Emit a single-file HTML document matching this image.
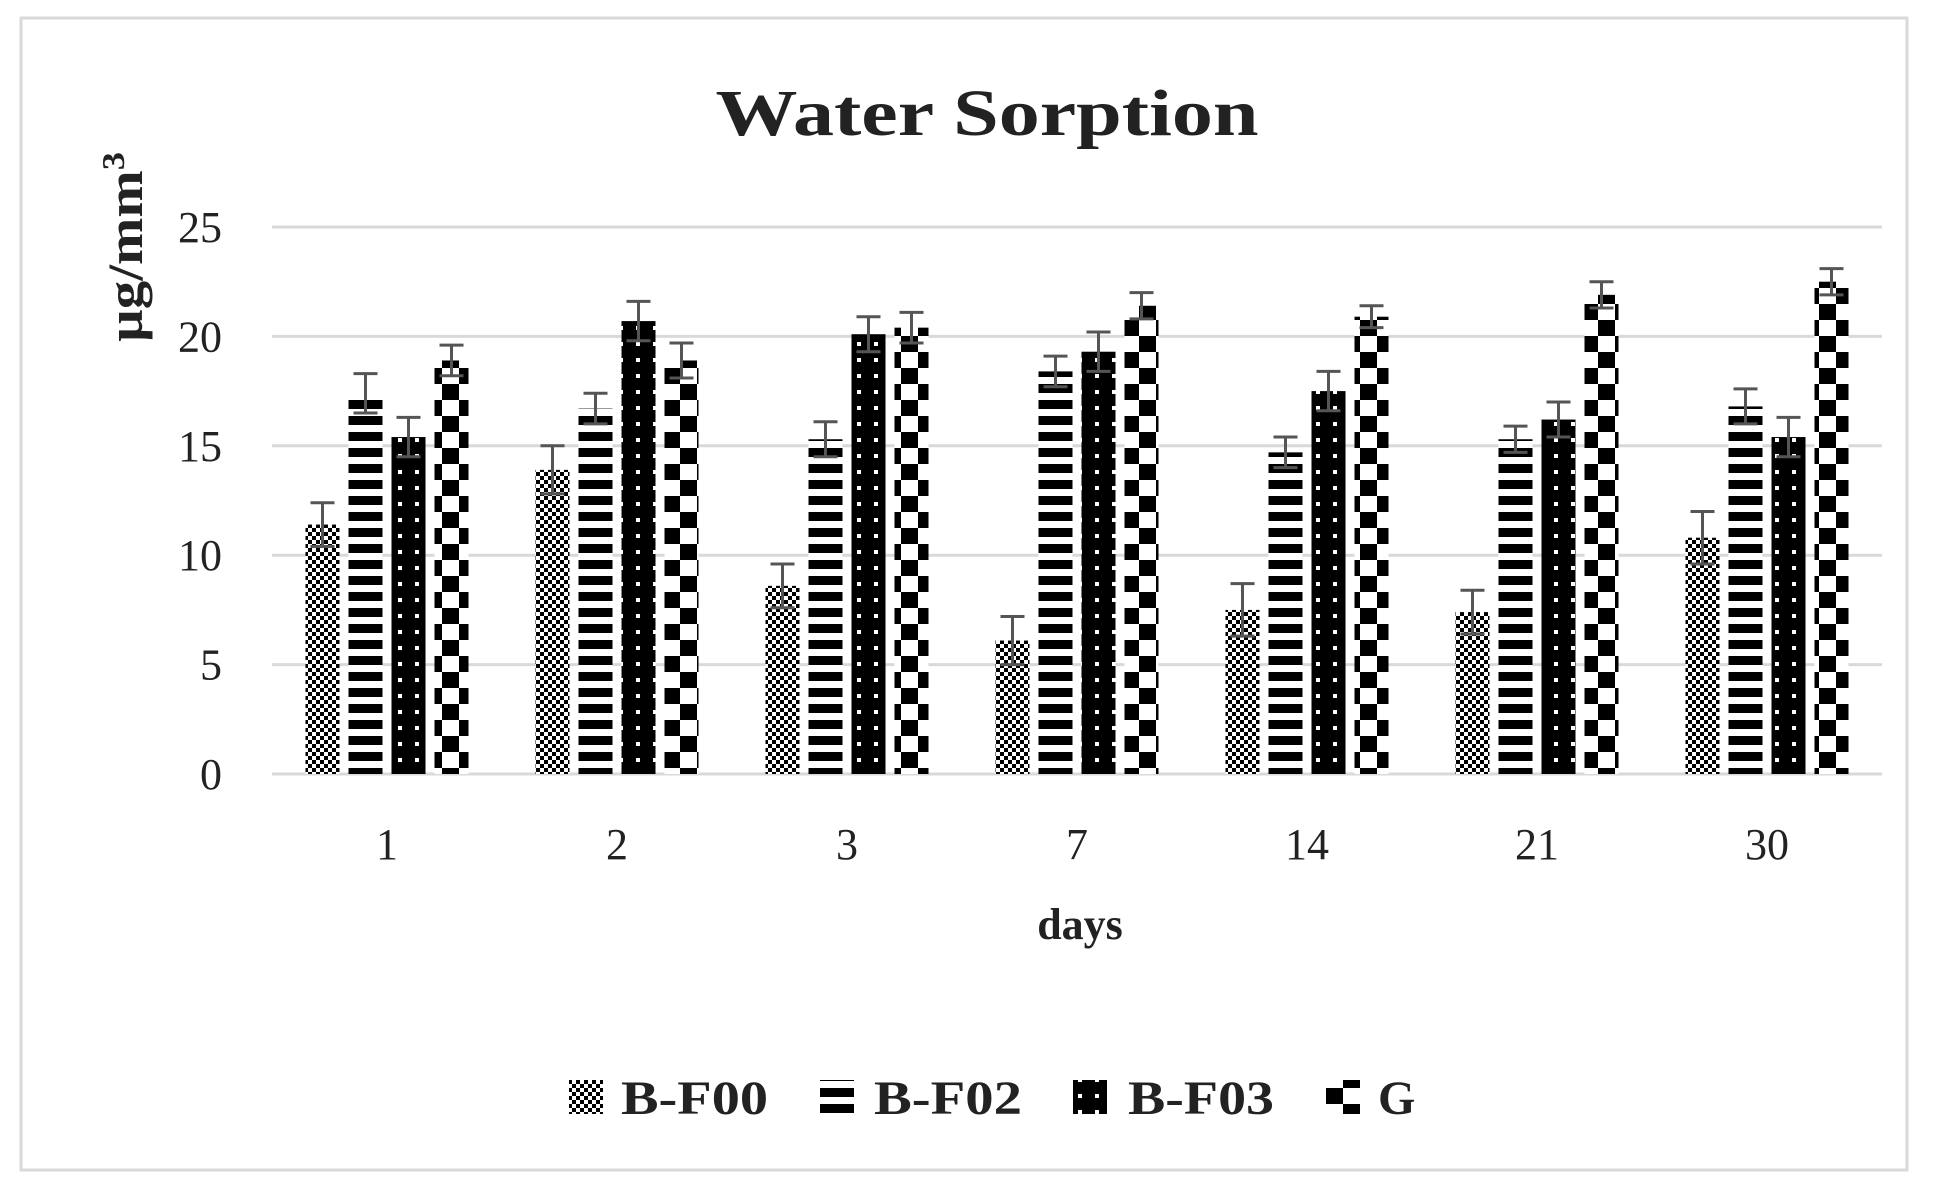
<!DOCTYPE html>
<html><head><meta charset="utf-8"><style>
html,body{margin:0;padding:0;background:#fff}
svg{display:block}
text{font-family:"Liberation Serif",serif;fill:#222}
</style></head><body>
<svg id="chart" width="1958" height="1188" viewBox="0 0 1958 1188" xmlns="http://www.w3.org/2000/svg">
<defs>
<pattern id="p0" width="8" height="8" patternUnits="userSpaceOnUse">
<rect width="8" height="8" fill="#fff"/><rect x="0" y="0" width="4" height="4" fill="#000"/><rect x="4" y="4" width="4" height="4" fill="#000"/>
</pattern>
<pattern id="p1" width="34" height="16" patternUnits="userSpaceOnUse">
<rect width="34" height="16" fill="#fff"/><rect y="0" width="34" height="9" fill="#000"/>
</pattern>
<pattern id="p2" width="17" height="16" patternUnits="userSpaceOnUse">
<rect width="17" height="16" fill="#000"/><rect x="7" y="6" width="4" height="4" fill="#fff"/>
</pattern>
<pattern id="p3" width="34" height="32" patternUnits="userSpaceOnUse">
<rect width="34" height="32" fill="#fff"/><rect x="0" y="0" width="17" height="16" fill="#000"/><rect x="17" y="16" width="17" height="16" fill="#000"/>
</pattern>
</defs>
<rect x="21" y="18" width="1886" height="1152" fill="#fff" stroke="#d9d9d9" stroke-width="3"/>
<text x="987" y="135" text-anchor="middle" font-size="66" font-weight="bold" textLength="543" lengthAdjust="spacingAndGlyphs">Water Sorption</text>
<text transform="translate(142,247) rotate(-90)" text-anchor="middle" font-size="50" font-weight="bold" textLength="190" lengthAdjust="spacingAndGlyphs">µg/mm<tspan font-size="32" dy="-18">3</tspan></text>
<text x="1080" y="939" text-anchor="middle" font-size="44" font-weight="bold">days</text>
<g id="grid"></g><g id="bars"></g><g id="xlabels"></g>
<g>
<rect x="569" y="1080" width="34" height="34" fill="url(#p0)"/>
<text x="621" y="1114" font-size="48" font-weight="bold" textLength="147" lengthAdjust="spacingAndGlyphs">B-F00</text>
<rect x="820" y="1080" width="34" height="34" fill="url(#p1)"/>
<text x="874" y="1114" font-size="48" font-weight="bold" textLength="148" lengthAdjust="spacingAndGlyphs">B-F02</text>
<rect x="1073" y="1080" width="34" height="34" fill="url(#p2)"/>
<text x="1128" y="1114" font-size="48" font-weight="bold" textLength="146" lengthAdjust="spacingAndGlyphs">B-F03</text>
<rect x="1326" y="1080" width="34" height="34" fill="url(#p3)"/>
<text x="1378" y="1114" font-size="48" font-weight="bold">G</text>
</g>
</svg>
<script>
const categories = ["1","2","3","7","14","21","30"];
const yTicks = [0,5,10,15,20,25];
const bF00 = [11.4,13.9,8.6,6.1,7.5,7.4,10.8];
const bF02 = [17.4,16.7,15.3,18.4,14.7,15.3,16.8];
const bF03 = [15.4,20.7,20.1,19.3,17.5,16.2,15.4];
const gVals = [18.9,18.9,20.4,21.4,20.9,21.9,22.5];
const errF00 = [1.0,1.1,1.0,1.1,1.2,1.0,1.2];
const errF02 = [0.9,0.7,0.8,0.7,0.7,0.6,0.8];
const errF03 = [0.9,0.9,0.8,0.9,0.9,0.8,0.9];
const errG = [0.7,0.8,0.7,0.6,0.5,0.6,0.6];

const NS="http://www.w3.org/2000/svg";
const X0=272,X1=1882,Y0=774,Y25=227;
const y=v=>Y0-(v/25)*(Y0-Y25);
const band=(X1-X0)/categories.length;
const cx=i=>X0+band*(i+0.5);
function mk(tag,attrs,parent){const e=document.createElementNS(NS,tag);for(const k in attrs)e.setAttribute(k,attrs[k]);parent.appendChild(e);return e;}
const grid=document.getElementById('grid');
yTicks.forEach(t=>{
  const l=mk('line',{x1:X0,x2:X1,y1:y(t),y2:y(t),stroke:'#d9d9d9','stroke-width':3},grid);
  
  
  const tx=mk('text',{x:222,y:y(t)+15,'text-anchor':'end','font-size':44},grid);
  
  
  tx.textContent=t;
});
const series=[[bF00,errF00,'p0','b-f00'],[bF02,errF02,'p1','b-f02'],[bF03,errF03,'p2','b-f03'],[gVals,errG,'p3','g']];
const bars=document.getElementById('bars');
const bw=34,pitch=43;
categories.forEach((c,i)=>{
  series.forEach((s,j)=>{
    const v=s[0][i],e=s[1][i];
    const x=cx(i)-2*pitch+j*pitch+(pitch-bw)/2;
    const r=mk('rect',{x:x,y:y(v),width:bw,height:Y0-y(v),fill:'url(#'+s[2]+')'},bars);
    
    
    const m=x+bw/2;
    const g=mk('g',{stroke:'#555','stroke-width':3},bars);
    
    
    mk('line',{x1:m,x2:m,y1:y(v+e),y2:y(v-e)},g);
    mk('line',{x1:m-12,x2:m+12,y1:y(v+e),y2:y(v+e)},g);
    mk('line',{x1:m-12,x2:m+12,y1:y(v-e),y2:y(v-e)},g);
  });
  const t=mk('text',{x:cx(i),y:859,'text-anchor':'middle','font-size':44},document.getElementById('xlabels'));
  
  
  t.textContent=c;
});
</script>
</body></html>
